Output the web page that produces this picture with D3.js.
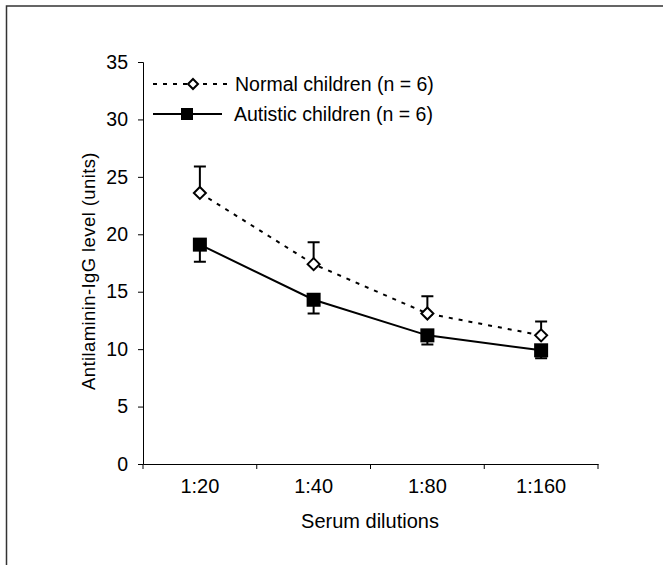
<!DOCTYPE html>
<html>
<head>
<meta charset="utf-8">
<script src="https://cdn.jsdelivr.net/npm/d3@7"></script>
<style>
  body { margin: 0; background: #fff; }
  svg { font-family: "Liberation Sans", Arial, sans-serif; }
</style>
</head>
<body>
<svg id="chart" width="663" height="565"></svg>
<script>
// data
var dilutions = ["1:20", "1:40", "1:80", "1:160"];
var normalMean = [23.6, 17.4, 13.1, 11.2];
var normalErr = [2.3, 1.9, 1.5, 1.2];
var autisticMean = [19.1, 14.3, 11.2, 9.9];
var autisticErr = [1.5, 1.2, 0.8, 0.7];
var yTicks = [0, 5, 10, 15, 20, 25, 30, 35];

var svg = d3.select("#chart");

// frame around the figure (cut at right and bottom)
svg.append("rect")
	.attr("x", 6.5).attr("y", 6)
	.attr("width", 700).attr("height", 600)
	.attr("fill", "none")
	.attr("stroke", "#333")
	.attr("stroke-width", 1.5);

var x = d3.scaleBand().domain(dilutions).range([143, 598]);
var y = d3.scaleLinear().domain([0, 35]).range([464, 62]);

var xAxis = svg.append("g")
	.attr("transform", "translate(0,464)")
	.call(d3.axisBottom(x).tickSize(0).tickPadding(15));
xAxis.select(".domain").attr("stroke", "#000");
xAxis.selectAll("text").attr("font-size", 20).attr("fill", "#000");
// ticks between categories
xAxis.selectAll(".sep")
	.data(dilutions.concat(["end"]))
	.enter().append("line")
	.attr("x1", function(d, i){ return 143 + i * x.bandwidth(); })
	.attr("x2", function(d, i){ return 143 + i * x.bandwidth(); })
	.attr("y1", 0).attr("y2", 5)
	.attr("stroke", "#000");

var yAxis = svg.append("g")
	.attr("transform", "translate(143,0)")
	.call(d3.axisLeft(y).tickValues(yTicks).tickSize(5).tickPadding(10));
yAxis.select(".domain").attr("stroke", "#000");
yAxis.selectAll("line").attr("stroke", "#000");
yAxis.selectAll("text").attr("font-size", 19.5).attr("fill", "#000");

svg.append("text")
	.attr("x", 370).attr("y", 528)
	.attr("text-anchor", "middle")
	.attr("font-size", 20)
	.text("Serum dilutions");

svg.append("text")
	.attr("transform", "translate(95,271) rotate(-90)")
	.attr("text-anchor", "middle")
	.attr("font-size", 18.5)
	.attr("letter-spacing", 0.4)
	.text("Antilaminin-IgG level (units)");

function cx(d){ return x(d) + x.bandwidth() / 2; }

var line = d3.line()
	.x(function(d){ return cx(d.k); })
	.y(function(d){ return y(d.v); });

var normal = dilutions.map(function(k, i){ return {k: k, v: normalMean[i], e: normalErr[i]}; });
var autistic = dilutions.map(function(k, i){ return {k: k, v: autisticMean[i], e: autisticErr[i]}; });

// error bars: normal upward, autistic downward
svg.selectAll(".errN").data(normal).enter().append("path")
	.attr("d", function(d){
		var c = cx(d.k), t = y(d.v + d.e);
		return "M" + c + "," + y(d.v) + "V" + t + "M" + (c - 6) + "," + t + "H" + (c + 6);
	})
	.attr("stroke", "#000").attr("stroke-width", 2).attr("fill", "none");

svg.selectAll(".errA").data(autistic).enter().append("path")
	.attr("d", function(d){
		var c = cx(d.k), b = y(d.v - d.e);
		return "M" + c + "," + y(d.v) + "V" + b + "M" + (c - 6) + "," + b + "H" + (c + 6);
	})
	.attr("stroke", "#000").attr("stroke-width", 2).attr("fill", "none");

svg.append("path").datum(normal)
	.attr("d", line)
	.attr("fill", "none").attr("stroke", "#000")
	.attr("stroke-width", 2).attr("stroke-dasharray", "4,6");

svg.append("path").datum(autistic)
	.attr("d", line)
	.attr("fill", "none").attr("stroke", "#000")
	.attr("stroke-width", 2);

var diamond = "M0,-6L6,0L0,6L-6,0Z";

svg.selectAll(".mN").data(normal).enter().append("path")
	.attr("transform", function(d){ return "translate(" + cx(d.k) + "," + y(d.v) + ")"; })
	.attr("d", diamond)
	.attr("fill", "#fff").attr("stroke", "#000").attr("stroke-width", 2);

svg.selectAll(".mA").data(autistic).enter().append("rect")
	.attr("x", function(d){ return cx(d.k) - 7; })
	.attr("y", function(d){ return y(d.v) - 7; })
	.attr("width", 14).attr("height", 14)
	.attr("fill", "#000");

// legend
var leg = svg.append("g");
leg.append("line").attr("x1", 153).attr("x2", 227).attr("y1", 84).attr("y2", 84)
	.attr("stroke", "#000").attr("stroke-width", 2).attr("stroke-dasharray", "4,6");
leg.append("path").attr("transform", "translate(193,84)").attr("d", "M0,-5L5,0L0,5L-5,0Z")
	.attr("fill", "#fff").attr("stroke", "#000").attr("stroke-width", 2);
leg.append("text").attr("x", 235).attr("y", 91).attr("font-size", 19.5).text("Normal children (n = 6)");

leg.append("line").attr("x1", 153).attr("x2", 222).attr("y1", 114).attr("y2", 114)
	.attr("stroke", "#000").attr("stroke-width", 2);
leg.append("rect").attr("x", 181).attr("y", 108).attr("width", 12).attr("height", 12).attr("fill", "#000");
leg.append("text").attr("x", 234).attr("y", 121).attr("font-size", 19.5).text("Autistic children (n = 6)");
</script>
</body>
</html>
